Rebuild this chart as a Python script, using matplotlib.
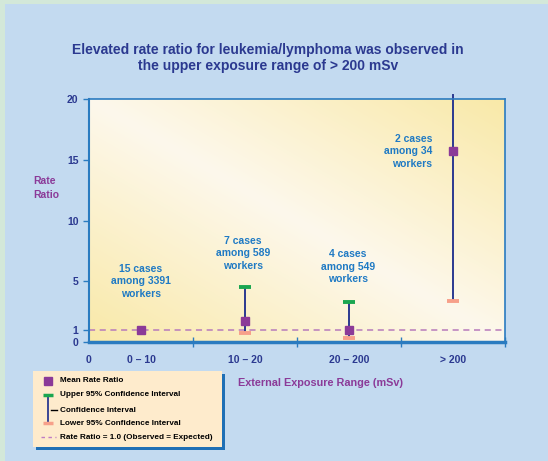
import numpy as np
import matplotlib
matplotlib.use('Agg')
import matplotlib.pyplot as plt
from matplotlib.colors import LinearSegmentedColormap
from matplotlib.patches import Rectangle

plt.rcParams['font.family'] = ['Liberation Sans', 'DejaVu Sans']
plt.rcParams['font.weight'] = 'bold'

# Datos
categorias = ['0 – 10', '10 – 20', '20 – 200', '> 200']
media = [0.98, 1.72, 1.0, 15.7]
inferior = [np.nan, 0.75, 0.35, 3.4]
superior = [np.nan, 4.5, 3.3, 20.3]
casos = ['15 cases\namong 3391\nworkers', '7 cases\namong 589\nworkers',
         '4 cases\namong 549\nworkers', '2 cases\namong 34\nworkers']
y_ticks = [0, 1, 5, 10, 15, 20]

# Colores
navy = '#2b3990'
azul = '#2a7bc0'
purpura = '#8b3a98'
verde = '#1aa650'
salmon = '#f7a08a'
texto_azul = '#1f7ac4'

fig = plt.figure(figsize=(5.48, 4.61), dpi=100)
fig.patch.set_facecolor('#d3e8d9')
fig.patches.append(Rectangle((5 / 548, 0), 1, 1 - 4 / 461, transform=fig.transFigure,
                             facecolor='#c3daf0', edgecolor='none', zorder=-2))

ax = fig.add_axes([89 / 548, 1 - 342 / 461, (505 - 89) / 548, (342 - 99) / 461])

# Fondo degradado del area de graficado
u, v = np.meshgrid(np.linspace(0, 1, 200), np.linspace(0, 1, 200))
grad = np.abs(u + v - 1)
cmap = LinearSegmentedColormap.from_list('crema', ['#fdf8ec', '#f9e9a8'])
ax.imshow(grad, extent=[0, 4, 0, 20], origin='lower', aspect='auto', cmap=cmap, zorder=0)

x = np.arange(len(categorias)) + 0.5

ax.axhline(1, color='#b77bbb', linestyle=(0, (4, 3)), linewidth=1.1, zorder=1)

for xi, lo, hi in zip(x, inferior, superior):
    if np.isnan(lo):
        continue
    ax.plot([xi, xi], [lo, hi], color=navy, linewidth=1.4, zorder=2, clip_on=False)
    ax.plot([xi - 0.055, xi + 0.055], [lo, lo], color=salmon, linewidth=2.8,
            solid_capstyle='butt', zorder=3)
    if hi <= 20:
        ax.plot([xi - 0.055, xi + 0.055], [hi, hi], color=verde, linewidth=2.8,
                solid_capstyle='butt', zorder=3)

ax.plot(x, media, 's', color=purpura, markersize=6, zorder=4, clip_on=False)

# Textos de casos
pos_texto = [(0.5, 5.0, 'center'), (1.48, 7.3, 'center'), (2.49, 6.2, 'center'), (3.30, 15.7, 'right')]
for (tx, ty, ha), t in zip(pos_texto, casos):
    ax.text(tx, ty, t, ha=ha, va='center', multialignment=ha, color=texto_azul,
            fontsize=7.5, fontweight='bold', linespacing=1.3, zorder=5)

ax.set_xlim(0, 4)
ax.set_ylim(0, 20)
ax.set_xticks([0] + list(x))
ax.set_xticklabels(['0'] + categorias)
ax.set_xticks([1, 2, 3, 4], minor=True)
ax.set_yticks(y_ticks)
ax.tick_params(axis='x', which='major', length=0, pad=9, labelsize=7.5, labelcolor=navy)
ax.tick_params(axis='x', which='minor', length=7, direction='inout', color=azul, width=1)
ax.tick_params(axis='y', length=4, color=azul, width=1, labelsize=7.5, labelcolor=navy)
for lab in ax.get_xticklabels() + ax.get_yticklabels():
    lab.set_fontweight('bold')

for s in ax.spines.values():
    s.set_color(azul)
    s.set_linewidth(1.2)
ax.spines['bottom'].set_linewidth(2.5)
ax.spines['left'].set_linewidth(1.5)

# Titulo y etiquetas
fig.text(268 / 548, 1 - 58 / 461, 'Elevated rate ratio for leukemia/lymphoma was observed in\nthe upper exposure range of > 200 mSv',
         ha='center', va='center', color=navy, fontsize=10, fontweight='bold', linespacing=1.2)
fig.text(33 / 548, 1 - 188 / 461, 'Rate\nRatio', ha='left', va='center', color=purpura,
         fontsize=7.5, fontweight='bold', linespacing=1.4)
fig.text(320 / 548, 1 - 383 / 461, 'External Exposure Range (mSv)', ha='center', va='center',
         color=purpura, fontsize=7.8, fontweight='bold')

# Leyenda hecha a mano
bx, by, bw, bh = 33, 371, 189, 76
fig.patches.append(Rectangle(((bx + 3) / 548, 1 - (by + bh + 3) / 461), bw / 548, bh / 461,
                             transform=fig.transFigure, facecolor='#1f6fb5', edgecolor='none', zorder=-1))
lax = fig.add_axes([bx / 548, 1 - (by + bh) / 461, bw / 548, bh / 461])
lax.set_xlim(0, bw)
lax.set_ylim(bh, 0)
lax.set_facecolor('#feebcc')
lax.set_xticks([])
lax.set_yticks([])
for s in lax.spines.values():
    s.set_visible(False)

lax.plot([15], [10], 's', color=purpura, markersize=6)
lax.plot([15, 15], [24, 52], color=navy, linewidth=1.3)
lax.plot([10, 20], [24, 24], color=verde, linewidth=2.5, solid_capstyle='butt')
lax.plot([10, 20], [52, 52], color=salmon, linewidth=2.5, solid_capstyle='butt')
lax.plot([18, 24], [39, 39], color='black', linewidth=1)
lax.plot([8, 23], [66, 66], color='#c07cc4', linestyle=(0, (2.5, 2.5)), linewidth=1)
etiquetas = ['Mean Rate Ratio', 'Upper 95% Confidence Interval', 'Confidence Interval',
             'Lower 95% Confidence Interval', 'Rate Ratio = 1.0 (Observed = Expected)']
for yy, t in zip([10, 24, 39, 52, 66], etiquetas):
    lax.text(27, yy, t, ha='left', va='center', color='black', fontsize=5.9, fontweight='bold')

fig.savefig('out.png', dpi=100)
